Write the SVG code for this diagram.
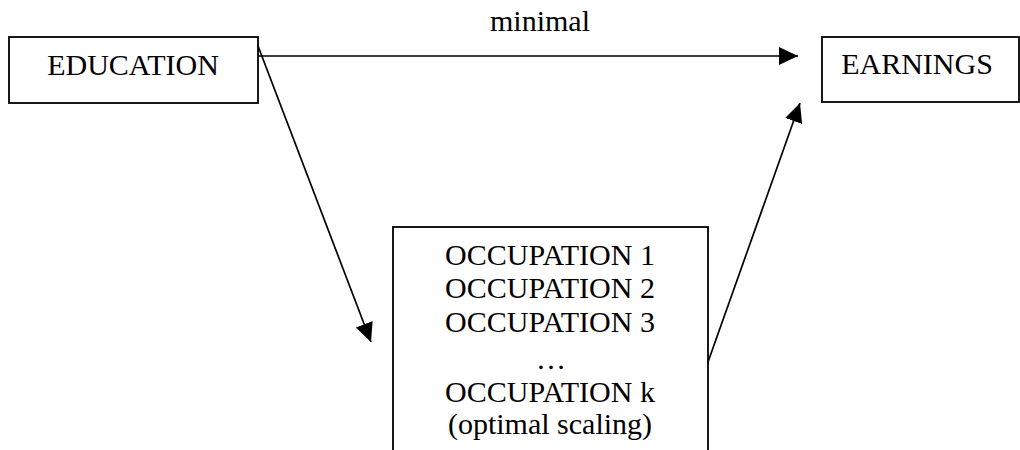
<svg xmlns="http://www.w3.org/2000/svg" width="1020" height="450" viewBox="0 0 1020 450">
<style>
.box{fill:#fff;stroke:#000;stroke-width:1.8}
.t{font-family:"Liberation Serif","Times New Roman",serif;font-size:30px;fill:#000;text-anchor:middle}
.c{fill:none;stroke:#000;stroke-width:1.7}
</style>
<defs>
<marker id="ah" viewBox="0 0 19 18" refX="19" refY="9" markerWidth="19" markerHeight="18" markerUnits="userSpaceOnUse" orient="auto">
<path d="M0,0 L19,9 L0,18 Z" fill="#000"/>
</marker>
</defs>
<rect width="1020" height="450" fill="#fff"/>
<g id="education">
<rect class="box" x="9" y="37" width="249" height="66"/>
<text class="t" x="133" y="75">EDUCATION</text>
</g>
<g id="earnings">
<rect class="box" x="822" y="37" width="197" height="65"/>
<text class="t" x="917" y="74">EARNINGS</text>
</g>
<g id="occupation">
<rect class="box" x="393" y="227" width="315" height="240"/>
<text class="t" x="550" y="265">OCCUPATION 1</text>
<text class="t" x="550" y="298">OCCUPATION 2</text>
<text class="t" x="550" y="332">OCCUPATION 3</text>
<text class="t" x="551" y="369">…</text>
<text class="t" x="550" y="402">OCCUPATION k</text>
<text class="t" x="550" y="434">(optimal scaling)</text>
</g>
<g id="connectors">
<line class="c" x1="258" y1="56" x2="798" y2="56" marker-end="url(#ah)"/>
<text class="t" x="540" y="31">minimal</text>
<line class="c" x1="258" y1="46" x2="371" y2="342" marker-end="url(#ah)"/>
<line class="c" x1="708" y1="362" x2="800" y2="103" marker-end="url(#ah)"/>
</g>
</svg>
